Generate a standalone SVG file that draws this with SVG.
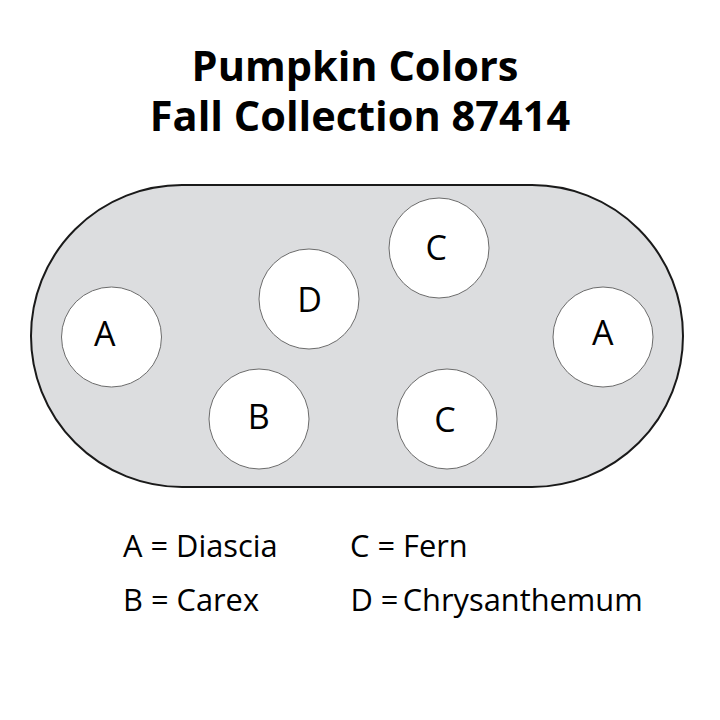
<svg xmlns="http://www.w3.org/2000/svg" width="720" height="720" viewBox="0 0 720 720">
<style>
.title{font-family:"Open Sans","Liberation Sans",sans-serif;font-weight:bold;font-size:41.5px;fill:#000;text-anchor:middle}
.lbl{font-family:"Open Sans","Liberation Sans",sans-serif;font-size:34px;fill:#000;text-anchor:middle}
.leg{font-family:"Open Sans","Liberation Sans",sans-serif;font-size:30.8px;fill:#000}
.spot{fill:#fff;stroke:#6b6b6b;stroke-width:1}
</style>
<rect width="720" height="720" fill="#fff"/>
<g id="title">
<text class="title" x="355" y="81">Pumpkin Colors</text>
<text class="title" x="360" y="131">Fall Collection 87414</text>
</g>
<g id="table">
<rect x="31" y="185" width="652" height="302" rx="151" ry="151" fill="#dcdddf" stroke="#1a1a1a" stroke-width="2"/>
</g>
<g id="node-a1"><circle class="spot" cx="111.5" cy="337" r="50"/><text class="lbl" x="104.7" y="346">A</text></g>
<g id="node-d"><circle class="spot" cx="309" cy="299" r="50"/><text class="lbl" x="309.7" y="311.5">D</text></g>
<g id="node-b"><circle class="spot" cx="259" cy="419" r="50"/><text class="lbl" x="258.8" y="429">B</text></g>
<g id="node-c1"><circle class="spot" cx="439" cy="248" r="50"/><text class="lbl" x="436.3" y="260">C</text></g>
<g id="node-c2"><circle class="spot" cx="447" cy="419" r="50"/><text class="lbl" x="445" y="431.5">C</text></g>
<g id="node-a2"><circle class="spot" cx="603" cy="337" r="50"/><text class="lbl" x="602.8" y="345">A</text></g>
<g id="connectors"></g>
<g id="legend">
<text class="leg" x="123" y="557">A = Diascia</text>
<text class="leg" x="350" y="557">C = Fern</text>
<text class="leg" x="123" y="611">B = Carex</text>
<text class="leg" x="350.5" y="611">D =<tspan x="402.7">Chrysanthemum</tspan></text>
</g>
</svg>
